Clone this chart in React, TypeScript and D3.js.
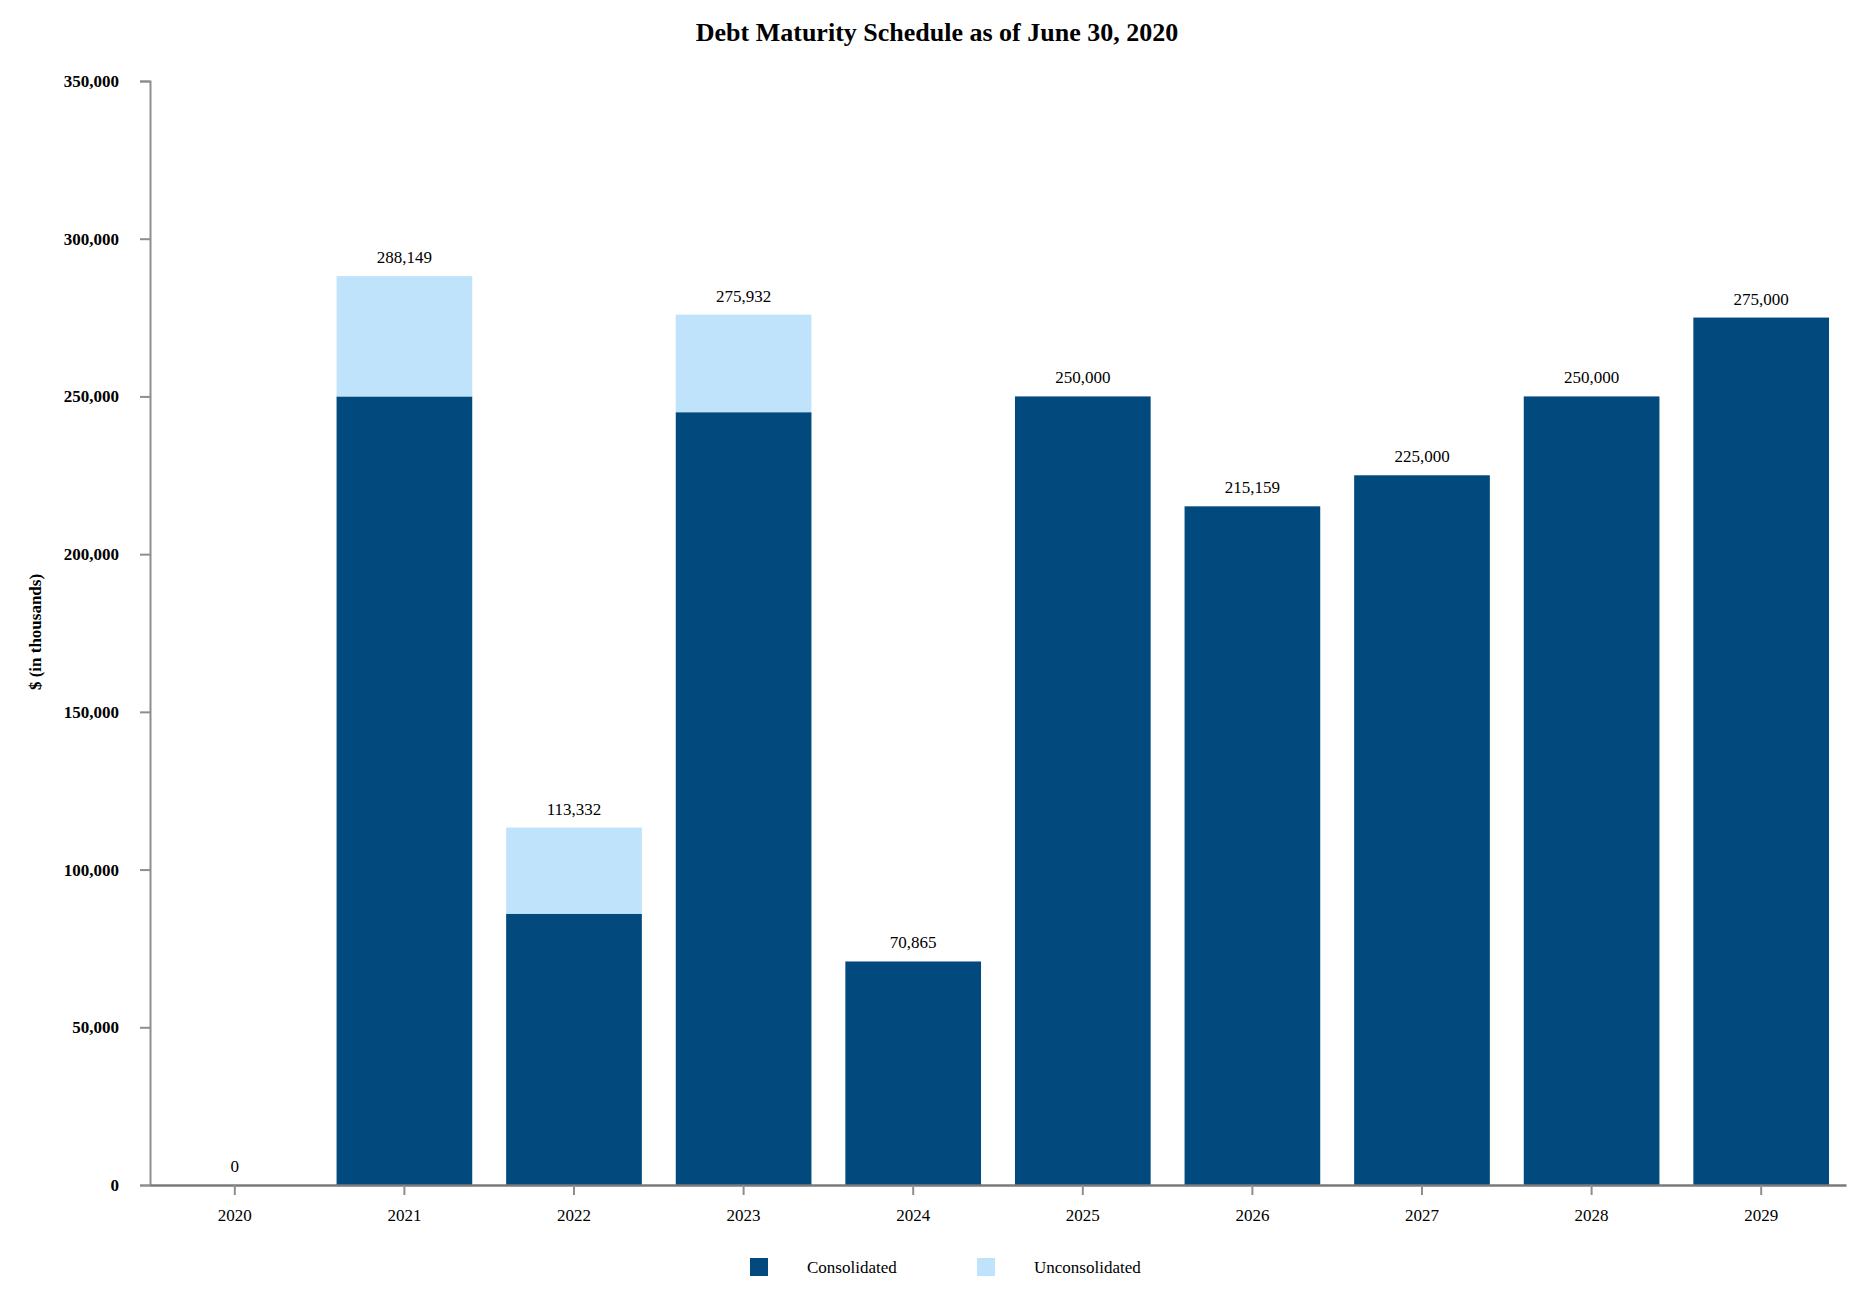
import { useEffect, useRef } from 'react';
import * as d3 from 'd3';

const years = ['2020', '2021', '2022', '2023', '2024', '2025', '2026', '2027', '2028', '2029'];
const consolidated = [0, 250000, 86000, 245000, 70865, 250000, 215159, 225000, 250000, 275000];
const unconsolidated = [0, 38149, 27332, 30932, 0, 0, 0, 0, 0, 0];
const yTicks = [0, 50000, 100000, 150000, 200000, 250000, 300000, 350000];
const seriesNames = ['Consolidated', 'Unconsolidated'];
const seriesColors = ['#02497d', '#bee3fb'];

const FONT = '"Liberation Serif", "Times New Roman", serif';

export default function App() {
  const svgRef = useRef<SVGSVGElement | null>(null);

  useEffect(() => {
    const svg = svgRef.current;
    if (!svg) return;

    const width = 1866;
    const height = 1306;
    const margin = { top: 81, right: 20, bottom: 121, left: 150 };

    const rows = years.map((year, i) => ({
      year,
      Consolidated: consolidated[i],
      Unconsolidated: unconsolidated[i],
      total: consolidated[i] + unconsolidated[i]
    }));

    const x = d3
      .scaleBand<string>()
      .domain(years)
      .range([margin.left, width - margin.right])
      .paddingInner(0.2)
      .paddingOuter(0.1);

    const y = d3
      .scaleLinear()
      .domain([0, 350000])
      .range([height - margin.bottom, margin.top]);

    const stacked = d3.stack<any>().keys(seriesNames)(rows);

    const root = d3.select(svg);
    root.attr('viewBox', `0 0 ${width} ${height}`);
    root.selectAll('*').remove();

    root.append('rect').attr('width', width).attr('height', height).attr('fill', '#ffffff');

    // title
    root
      .append('text')
      .attr('x', 937)
      .attr('y', 41)
      .attr('text-anchor', 'middle')
      .attr('font-family', FONT)
      .attr('font-weight', 'bold')
      .attr('font-size', 26)
      .attr('fill', '#000')
      .text('Debt Maturity Schedule as of June 30, 2020');

    // bars
    root
      .append('g')
      .selectAll('g')
      .data(stacked)
      .join('g')
      .attr('fill', (_, i) => seriesColors[i])
      .selectAll('rect')
      .data((d) => d)
      .join('rect')
      .attr('x', (d: any) => x(d.data.year)!)
      .attr('width', x.bandwidth())
      .attr('y', (d) => y(d[1]))
      .attr('height', (d) => y(d[0]) - y(d[1]));

    // value labels
    root
      .append('g')
      .selectAll('text')
      .data(rows)
      .join('text')
      .attr('x', (d) => x(d.year)! + x.bandwidth() / 2)
      .attr('y', (d) => y(d.total) - 13)
      .attr('text-anchor', 'middle')
      .attr('font-family', FONT)
      .attr('font-size', 17)
      .attr('fill', '#000')
      .text((d) => d3.format(',')(d.total));

    // y axis
    root
      .append('g')
      .attr('transform', `translate(${margin.left},0)`)
      .call(d3.axisLeft(y).tickValues(yTicks).tickSize(10).tickPadding(21).tickFormat(d3.format(',') as any))
      .call((g) => g.selectAll('path,line').attr('stroke', '#8e8e8e').attr('stroke-width', 2))
      .call((g) =>
        g
          .selectAll('text')
          .attr('fill', '#000')
          .attr('font-family', FONT)
          .attr('font-weight', 'bold')
          .attr('font-size', 17)
      );

    // x axis
    root
      .append('g')
      .attr('transform', `translate(0,${height - margin.bottom})`)
      .call(d3.axisBottom(x).tickSize(10).tickSizeOuter(0).tickPadding(14))
      .call((g) => g.select('path').attr('stroke', '#7a7a7a').attr('stroke-width', 2.5))
      .call((g) => g.selectAll('line').attr('stroke', '#8e8e8e').attr('stroke-width', 2))
      .call((g) =>
        g.selectAll('text').attr('fill', '#000').attr('font-family', FONT).attr('font-size', 17)
      );

    // y axis title
    root
      .append('text')
      .attr('transform', `translate(41,632) rotate(-90)`)
      .attr('text-anchor', 'middle')
      .attr('font-family', FONT)
      .attr('font-weight', 'bold')
      .attr('font-size', 17)
      .attr('fill', '#000')
      .text('$ (in thousands)');

    // legend
    const legendX = [750, 977];
    const legend = root
      .append('g')
      .selectAll('g')
      .data(seriesNames)
      .join('g')
      .attr('transform', (_, i) => `translate(${legendX[i]},1258)`);

    legend
      .append('rect')
      .attr('width', 18)
      .attr('height', 18)
      .attr('fill', (_, i) => seriesColors[i]);

    legend
      .append('text')
      .attr('x', 57)
      .attr('y', 15)
      .attr('font-family', FONT)
      .attr('font-size', 17)
      .attr('fill', '#000')
      .text((d) => d);
  }, []);

  return (
    <svg
      ref={svgRef}
      width={1866}
      height={1306}
      style={{ position: 'absolute', left: 0, top: 0, display: 'block' }}
    />
  );
}
